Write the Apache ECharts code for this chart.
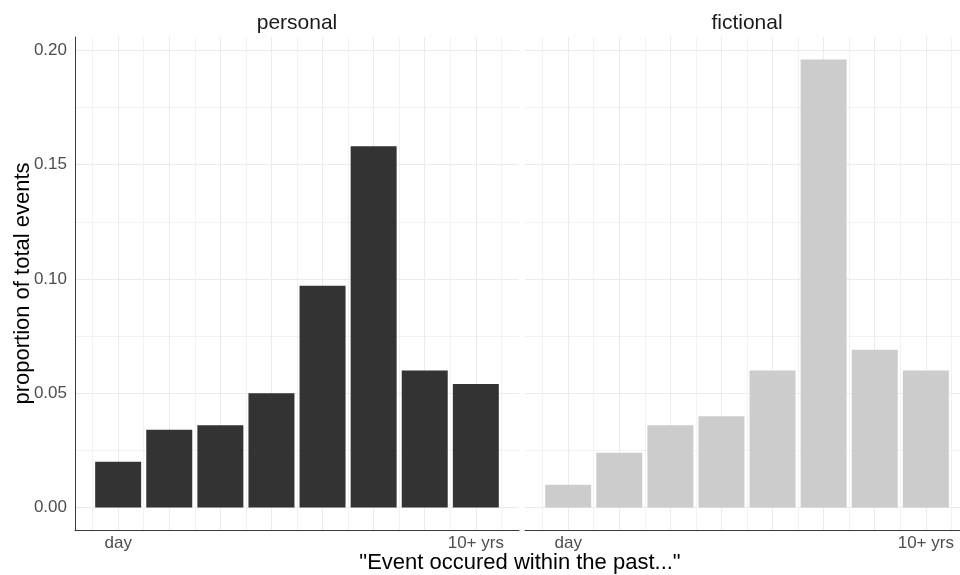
<!DOCTYPE html>
<html>
<head>
<meta charset="utf-8">
<script src="https://cdn.jsdelivr.net/npm/echarts@6/dist/echarts.min.js"></script>
<style>
  html, body { margin: 0; padding: 0; background: #ffffff; }
  #chart { width: 960px; height: 575px; }
</style>
</head>
<body>
<div id="chart"></div>
<script>
// ---- data ----
const panelTitles = ['personal', 'fictional'];
const xPositions = [1, 2, 3, 4, 5, 6, 7, 8];
const personalValues = [0.020, 0.034, 0.036, 0.050, 0.097, 0.158, 0.060, 0.054];
const fictionalValues = [0.010, 0.024, 0.036, 0.040, 0.060, 0.196, 0.069, 0.060];
const xTickValues = [1, 8];
const xTickLabels = ['day', '10+ yrs'];
const xMinorValues = [0.5, 1.5, 2.5, 3.5, 4.5, 5.5, 6.5, 7.5, 8.5];
const yTickValues = [0, 0.05, 0.10, 0.15, 0.20];
const yTickLabels = ['0.00', '0.05', '0.10', '0.15', '0.20'];
const yMinorValues = [0.025, 0.075, 0.125, 0.175];
const xLimits = [0.155, 8.845];
const yLimits = [-0.0098, 0.2058];
const yTitle = 'proportion of total events';
const xTitle = '"Event occured within the past..."';

// ---- styling / layout ----
const FONT = '"Liberation Sans", Arial, sans-serif';
const majorGrid = { color: '#ebebeb', width: 1 };
const minorGrid = { color: '#f2f2f2', width: 1 };
const axisLineStyle = { color: '#3a3a3a', width: 1 };
const barColors = ['#333333', '#cccccc'];
const gridLefts = [75, 525];
const fullPanelW = 444;            // full panel width (right panel is cut by the image edge)
const visiblePanelW = [444, 435];  // what fits on the 960px canvas
const gridTop = 37, gridH = 493;

const chart = echarts.init(document.getElementById('chart'), null, { renderer: 'canvas' });

const grids = [], xAxes = [], yAxes = [], series = [], graphics = [];
const seriesValues = [personalValues, fictionalValues];

panelTitles.forEach(function (title, p) {
  const w = visiblePanelW[p];
  const xMax = xLimits[0] + (xLimits[1] - xLimits[0]) * w / fullPanelW;
  grids.push({ left: gridLefts[p], top: gridTop, width: w, height: gridH, containLabel: false });
  // major x axis
  xAxes.push({
    type: 'value', gridIndex: p, min: xLimits[0], max: xMax, position: 'bottom',
    axisLine: { show: true, onZero: false, lineStyle: axisLineStyle },
    axisTick: { show: false, customValues: xPositions },
    axisLabel: {
      show: true, customValues: xTickValues, margin: 5,
      color: '#4d4d4d', fontSize: 17, fontFamily: FONT,
      formatter: function (v) { const i = xTickValues.indexOf(v); return i >= 0 ? xTickLabels[i] : ''; }
    },
    splitLine: { show: true, lineStyle: majorGrid }
  });
  // minor x axis (gridlines only)
  xAxes.push({
    type: 'value', gridIndex: p, min: xLimits[0], max: xMax, position: 'bottom',
    axisLine: { show: false }, axisLabel: { show: false },
    axisTick: { show: false, customValues: xMinorValues },
    splitLine: { show: true, lineStyle: minorGrid }
  });
  // major y axis
  yAxes.push({
    type: 'value', gridIndex: p, min: yLimits[0], max: yLimits[1], position: 'left',
    axisLine: { show: p === 0, onZero: false, lineStyle: axisLineStyle },
    axisTick: { show: false, customValues: yTickValues },
    axisLabel: {
      show: p === 0, customValues: yTickValues, margin: 8,
      color: '#4d4d4d', fontSize: 17, fontFamily: FONT,
      formatter: function (v) {
        let best = 0, bd = Infinity;
        yTickValues.forEach(function (t, i) { const d = Math.abs(t - v); if (d < bd) { bd = d; best = i; } });
        return yTickLabels[best];
      }
    },
    splitLine: { show: true, lineStyle: majorGrid }
  });
  // minor y axis
  yAxes.push({
    type: 'value', gridIndex: p, min: yLimits[0], max: yLimits[1], position: 'left',
    axisLine: { show: false }, axisLabel: { show: false },
    axisTick: { show: false, customValues: yMinorValues },
    splitLine: { show: true, lineStyle: minorGrid }
  });

  series.push({
    type: 'bar', name: title,
    xAxisIndex: p * 2, yAxisIndex: p * 2,
    data: xPositions.map(function (x, i) { return [x, seriesValues[p][i]]; }),
    barWidth: '90%',
    itemStyle: { color: barColors[p] },
    z: 3
  });

  graphics.push({
    type: 'text', x: gridLefts[p] + fullPanelW / 2, y: 23,
    style: { text: title, font: '21px ' + FONT, fill: '#1a1a1a', align: 'center', verticalAlign: 'middle' }
  });
});

graphics.push({
  type: 'text', x: 520, y: 563,
  style: { text: xTitle, font: '22px ' + FONT, fill: '#000000', align: 'center', verticalAlign: 'middle' }
});
graphics.push({
  type: 'text', x: 23, y: gridTop + gridH / 2, rotation: Math.PI / 2,
  style: { text: yTitle, font: '22px ' + FONT, fill: '#000000', align: 'center', verticalAlign: 'middle' }
});

chart.setOption({
  animation: false,
  backgroundColor: '#ffffff',
  grid: grids,
  xAxis: xAxes,
  yAxis: yAxes,
  series: series,
  graphic: graphics
});
</script>
</body>
</html>
